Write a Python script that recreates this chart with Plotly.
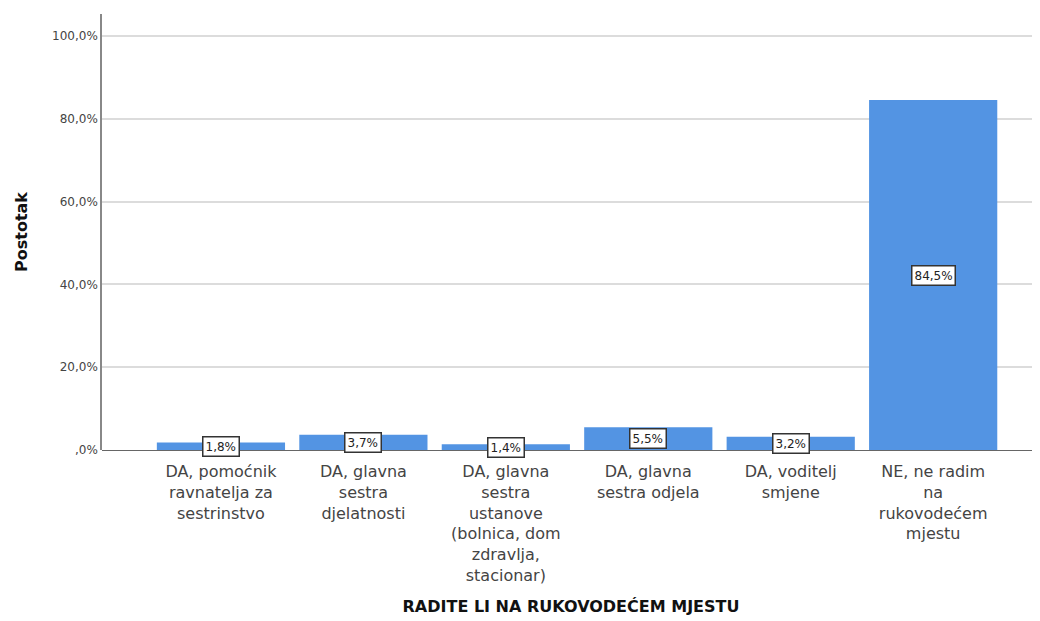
import plotly.graph_objects as go

# Data
categories = [
    "DA, pomoćnik<br>ravnatelja za<br>sestrinstvo",
    "DA, glavna<br>sestra<br>djelatnosti",
    "DA, glavna<br>sestra<br>ustanove<br>(bolnica, dom<br>zdravlja,<br>stacionar)",
    "DA, glavna<br>sestra odjela",
    "DA, voditelj<br>smjene",
    "NE, ne radim<br>na<br>rukovodećem<br>mjestu",
]
percent = [1.8, 3.7, 1.4, 5.5, 3.2, 84.5]
y_ticks = [0, 20, 40, 60, 80, 100]
y_tick_text = [",0%", "20,0%", "40,0%", "60,0%", "80,0%", "100,0%"]

FONT = "DejaVu Sans"

fig = go.Figure(go.Bar(
    x=list(range(len(categories))),
    y=percent,
    width=0.9,
    marker_color="#5394e3",
    marker_line_width=0,
    hoverinfo="skip",
))

# value labels in boxes, at the middle of each bar
for i, v in enumerate(percent):
    fig.add_annotation(
        x=i, y=v / 2,
        text=f"{v:.1f}%".replace(".", ","),
        showarrow=False,
        font=dict(family=FONT, size=12, color="#222"),
        bgcolor="white",
        bordercolor="#333",
        borderwidth=1.5,
        borderpad=2,
    )

# page body adds an 8px offset, margins are shifted to compensate
fig.update_layout(
    width=1040,
    height=621,
    margin=dict(l=94, r=8, t=6, b=179),
    plot_bgcolor="white",
    paper_bgcolor="white",
    font=dict(family=FONT, color="#444"),
    showlegend=False,
)

fig.update_xaxes(
    tickmode="array",
    tickvals=list(range(len(categories))),
    ticktext=categories,
    range=[-0.835, 5.75],
    tickfont=dict(family=FONT, size=16, color="#444"),
    ticklabelstandoff=10,
    ticks="",
    showgrid=False,
    showline=False,
    zeroline=False,
    title=dict(text="<b>RADITE LI NA RUKOVODEĆEM MJESTU</b>",
               font=dict(family=FONT, size=16, color="#111"), standoff=16),
    tickangle=0,
)

fig.update_yaxes(
    range=[0, 105.3],
    tickmode="array",
    tickvals=y_ticks,
    ticktext=y_tick_text,
    tickfont=dict(family=FONT, size=12, color="#444"),
    showgrid=True,
    gridcolor="#dcdcdc",
    gridwidth=1.5,
    showline=True,
    linecolor="#888",
    linewidth=1.5,
    zeroline=True,
    zerolinecolor="#666",
    zerolinewidth=1,
    ticks="",
    ticklen=0,
    title=dict(text="<b>Postotak</b>", font=dict(family=FONT, size=16, color="#111"), standoff=20),
)

fig.write_html("out.html")
